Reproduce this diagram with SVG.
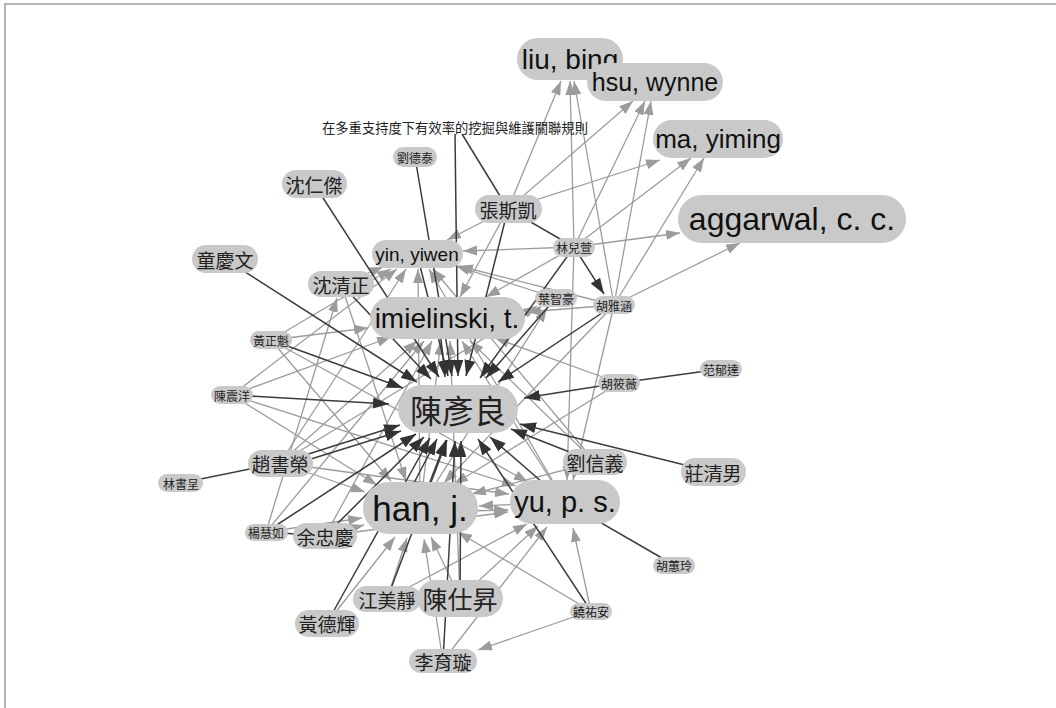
<svg xmlns="http://www.w3.org/2000/svg" width="1056" height="708" viewBox="0 0 1056 708">
<style>
.n{fill:#c9c9c9}
.t{font-family:"Liberation Sans",Arial,sans-serif;fill:#111;text-anchor:middle;dominant-baseline:central}
.c{font-family:"Noto Sans CJK TC","Noto Sans CJK SC",sans-serif;fill:#222;text-anchor:middle;dominant-baseline:central}
.g{stroke:#9c9c9c;stroke-width:1.3;fill:none;marker-end:url(#ag)}
.d{stroke:#3c3c3c;stroke-width:1.5;fill:none;marker-end:url(#ad)}
.dl{stroke:#3c3c3c;stroke-width:1.5;fill:none}
</style>
<defs>
<marker id="ag" markerUnits="userSpaceOnUse" markerWidth="14" markerHeight="10" viewBox="0 0 14 10" refX="14" refY="5" orient="auto"><path d="M0,0L14,5L0,10z" fill="#9c9c9c"/></marker>
<marker id="ad" markerUnits="userSpaceOnUse" markerWidth="16" markerHeight="11" viewBox="0 0 16 11" refX="16" refY="5.5" orient="auto"><path d="M0,0L16,5.5L0,11z" fill="#333"/></marker>
</defs>
<rect width="1056" height="708" fill="#fff"/>
<path d="M5,708V4H1056" stroke="#b4b4b4" stroke-width="2" fill="none"/>
<g id="connectors">
<line class="g" x1="508" y1="209" x2="561" y2="81"/>
<line class="g" x1="574" y1="247" x2="570" y2="81"/>
<line class="g" x1="614" y1="305" x2="574" y2="81"/>
<line class="g" x1="508" y1="209" x2="633" y2="101"/>
<line class="g" x1="574" y1="247" x2="645" y2="101"/>
<line class="g" x1="614" y1="305" x2="651" y2="101"/>
<line class="g" x1="508" y1="209" x2="660" y2="160"/>
<line class="g" x1="574" y1="247" x2="691" y2="158"/>
<line class="g" x1="614" y1="305" x2="704" y2="158"/>
<line class="g" x1="574" y1="247" x2="680" y2="233"/>
<line class="g" x1="614" y1="305" x2="740" y2="243"/>
<line class="g" x1="508" y1="209" x2="447" y2="240"/>
<line class="g" x1="574" y1="247" x2="463" y2="251"/>
<line class="g" x1="556" y1="298" x2="456" y2="266"/>
<line class="g" x1="614" y1="305" x2="459" y2="266"/>
<line class="g" x1="341" y1="284" x2="383" y2="267"/>
<line class="g" x1="271" y1="340" x2="391" y2="269"/>
<line class="g" x1="232" y1="395" x2="397" y2="269"/>
<line class="g" x1="280" y1="463" x2="406" y2="269"/>
<line class="g" x1="420" y1="508" x2="418" y2="269"/>
<line class="g" x1="565" y1="502" x2="429" y2="269"/>
<line class="g" x1="595" y1="462" x2="433" y2="269"/>
<line class="g" x1="271" y1="340" x2="368" y2="328"/>
<line class="g" x1="232" y1="395" x2="391" y2="337"/>
<line class="g" x1="280" y1="463" x2="417" y2="341"/>
<line class="g" x1="266" y1="532" x2="424" y2="341"/>
<line class="g" x1="420" y1="508" x2="441" y2="341"/>
<line class="g" x1="565" y1="502" x2="462" y2="341"/>
<line class="g" x1="595" y1="462" x2="470" y2="341"/>
<line class="g" x1="460" y1="598" x2="450" y2="341"/>
<line class="g" x1="325" y1="536" x2="432" y2="341"/>
<line class="g" x1="574" y1="247" x2="486" y2="297"/>
<line class="g" x1="614" y1="305" x2="527" y2="312"/>
<line class="g" x1="508" y1="209" x2="460" y2="297"/>
<line class="g" x1="619" y1="383" x2="495" y2="338"/>
<line class="g" x1="280" y1="463" x2="365" y2="492"/>
<line class="g" x1="232" y1="395" x2="377" y2="485"/>
<line class="g" x1="271" y1="340" x2="391" y2="481"/>
<line class="g" x1="341" y1="284" x2="406" y2="481"/>
<line class="g" x1="325" y1="536" x2="364" y2="525"/>
<line class="g" x1="266" y1="532" x2="362" y2="518"/>
<line class="g" x1="387" y1="599" x2="407" y2="538"/>
<line class="g" x1="460" y1="598" x2="431" y2="537"/>
<line class="g" x1="443" y1="661" x2="424" y2="539"/>
<line class="g" x1="327" y1="623" x2="395" y2="537"/>
<line class="g" x1="591" y1="611" x2="458" y2="532"/>
<line class="g" x1="565" y1="502" x2="479" y2="506"/>
<line class="g" x1="595" y1="462" x2="472" y2="494"/>
<line class="g" x1="619" y1="383" x2="454" y2="484"/>
<line class="g" x1="614" y1="305" x2="444" y2="483"/>
<line class="g" x1="420" y1="512" x2="508" y2="510"/>
<line class="g" x1="387" y1="599" x2="527" y2="524"/>
<line class="g" x1="460" y1="598" x2="538" y2="526"/>
<line class="g" x1="443" y1="661" x2="547" y2="527"/>
<line class="g" x1="591" y1="611" x2="573" y2="528"/>
<line class="g" x1="325" y1="536" x2="508" y2="512"/>
<line class="g" x1="280" y1="463" x2="509" y2="494"/>
<line class="g" x1="271" y1="340" x2="528" y2="482"/>
<line class="g" x1="232" y1="395" x2="516" y2="486"/>
<line class="g" x1="614" y1="305" x2="573" y2="480"/>
<line class="g" x1="574" y1="247" x2="567" y2="480"/>
<line class="g" x1="591" y1="611" x2="478" y2="650"/>
<line class="g" x1="266" y1="532" x2="337" y2="298"/>
<line class="g" x1="420" y1="508" x2="547" y2="308"/>
<line class="g" x1="280" y1="463" x2="537" y2="306"/>
<line class="dl" x1="181" y1="483" x2="280" y2="463"/>
<line class="dl" x1="721" y1="369" x2="619" y2="383"/>
<line class="dl" x1="674" y1="565" x2="565" y2="502"/>
<line class="dl" x1="462" y1="134" x2="508" y2="209"/>
<line class="dl" x1="508" y1="209" x2="574" y2="247"/>
<line class="dl" x1="266" y1="532" x2="325" y2="536"/>
<line class="d" x1="574" y1="247" x2="604" y2="294"/>
<line class="d" x1="225" y1="259" x2="417" y2="382"/>
<line class="d" x1="314" y1="184" x2="439" y2="377"/>
<line class="d" x1="415" y1="157" x2="452" y2="376"/>
<line class="d" x1="455" y1="134" x2="458" y2="376"/>
<line class="d" x1="508" y1="209" x2="466" y2="376"/>
<line class="d" x1="574" y1="247" x2="480" y2="378"/>
<line class="d" x1="556" y1="298" x2="486" y2="378"/>
<line class="d" x1="614" y1="305" x2="498" y2="382"/>
<line class="d" x1="619" y1="383" x2="524" y2="398"/>
<line class="d" x1="713" y1="472" x2="520" y2="424"/>
<line class="d" x1="595" y1="462" x2="511" y2="429"/>
<line class="d" x1="565" y1="502" x2="490" y2="437"/>
<line class="d" x1="591" y1="611" x2="478" y2="439"/>
<line class="d" x1="443" y1="661" x2="455" y2="441"/>
<line class="d" x1="460" y1="598" x2="461" y2="441"/>
<line class="d" x1="420" y1="508" x2="446" y2="440"/>
<line class="d" x1="405" y1="500" x2="437" y2="439"/>
<line class="d" x1="327" y1="623" x2="430" y2="438"/>
<line class="d" x1="387" y1="599" x2="447" y2="440"/>
<line class="d" x1="266" y1="532" x2="416" y2="434"/>
<line class="d" x1="325" y1="536" x2="424" y2="437"/>
<line class="d" x1="280" y1="463" x2="400" y2="425"/>
<line class="d" x1="282" y1="468" x2="401" y2="431"/>
<line class="d" x1="232" y1="395" x2="389" y2="404"/>
<line class="d" x1="271" y1="340" x2="403" y2="388"/>
<line class="d" x1="341" y1="284" x2="431" y2="379"/>
<line class="d" x1="440" y1="330" x2="445" y2="377"/>
<line class="d" x1="417" y1="254" x2="448" y2="376"/>
</g>
<g id="n-title"><text class="c" x="455" y="127" font-size="13.3">在多重支持度下有效率的挖掘與維護關聯規則</text></g>
<g id="n-liu"><rect class="n" x="517" y="38" width="106" height="42" rx="21"/><text class="t" x="570" y="59" font-size="28">liu, bing</text></g>
<g id="n-hsu"><rect class="n" x="587" y="63" width="136" height="38" rx="19"/><text class="t" x="655" y="82" font-size="25">hsu, wynne</text></g>
<g id="n-ma"><rect class="n" x="653" y="120" width="130" height="38" rx="19"/><text class="t" x="718" y="139" font-size="26">ma, yiming</text></g>
<g id="n-aggarwal"><rect class="n" x="678" y="195" width="228" height="48" rx="24"/><text class="t" x="792" y="219" font-size="32">aggarwal, c. c.</text></g>
<g id="n-liudetai"><rect class="n" x="393" y="147" width="44" height="20" rx="10"/><text class="c" x="415" y="157" font-size="12">劉德泰</text></g>
<g id="n-shenrenjie"><rect class="n" x="282" y="170" width="65" height="28" rx="14"/><text class="c" x="314" y="184" font-size="19">沈仁傑</text></g>
<g id="n-zhangsikai"><rect class="n" x="475" y="195" width="67" height="28" rx="14"/><text class="c" x="508" y="209" font-size="19">張斯凱</text></g>
<g id="n-yin"><rect class="n" x="372" y="240" width="91" height="28" rx="14"/><text class="t" x="417" y="254" font-size="19">yin, yiwen</text></g>
<g id="n-linerxuan"><rect class="n" x="553" y="238" width="42" height="19" rx="9.5"/><text class="c" x="574" y="247" font-size="12">林兒萱</text></g>
<g id="n-tongqingwen"><rect class="n" x="192" y="245" width="66" height="28" rx="14"/><text class="c" x="225" y="259" font-size="19">童慶文</text></g>
<g id="n-shenqingzheng"><rect class="n" x="308" y="271" width="66" height="26" rx="13"/><text class="c" x="341" y="284" font-size="19">沈清正</text></g>
<g id="n-yezhihao"><rect class="n" x="535" y="289" width="42" height="18" rx="9"/><text class="c" x="556" y="298" font-size="12">葉智豪</text></g>
<g id="n-huyahan"><rect class="n" x="593" y="296" width="42" height="18" rx="9"/><text class="c" x="614" y="305" font-size="12">胡雅涵</text></g>
<g id="n-imielinski"><rect class="n" x="370" y="297" width="155" height="42" rx="21"/><text class="t" x="447" y="318" font-size="28">imielinski, t.</text></g>
<g id="n-huangzhengkui"><rect class="n" x="250" y="331" width="42" height="18" rx="9"/><text class="c" x="271" y="340" font-size="12">黃正魁</text></g>
<g id="n-fanyuda"><rect class="n" x="700" y="360" width="42" height="18" rx="9"/><text class="c" x="721" y="369" font-size="12">范郁達</text></g>
<g id="n-huxiaowei"><rect class="n" x="598" y="374" width="42" height="18" rx="9"/><text class="c" x="619" y="383" font-size="12">胡筱薇</text></g>
<g id="n-chenzhenyang"><rect class="n" x="211" y="386" width="42" height="18" rx="9"/><text class="c" x="232" y="395" font-size="12">陳震洋</text></g>
<g id="n-chenyanliang"><rect class="n" x="398" y="385" width="120" height="48" rx="24"/><text class="c" x="458" y="409" font-size="32">陳彥良</text></g>
<g id="n-liuxinyi"><rect class="n" x="563" y="449" width="64" height="26" rx="13"/><text class="c" x="595" y="462" font-size="19">劉信義</text></g>
<g id="n-zhuangqingnan"><rect class="n" x="681" y="458" width="65" height="28" rx="14"/><text class="c" x="713" y="472" font-size="19">莊清男</text></g>
<g id="n-zhaoshurong"><rect class="n" x="248" y="450" width="65" height="27" rx="13.5"/><text class="c" x="280" y="463" font-size="19">趙書榮</text></g>
<g id="n-linshucheng"><rect class="n" x="158" y="474" width="45" height="18" rx="9"/><text class="c" x="181" y="483" font-size="12">林書呈</text></g>
<g id="n-han"><rect class="n" x="363" y="482" width="115" height="52" rx="26"/><text class="t" x="420" y="508" font-size="35">han, j.</text></g>
<g id="n-yu"><rect class="n" x="510" y="480" width="110" height="44" rx="22"/><text class="t" x="565" y="502" font-size="29">yu, p. s.</text></g>
<g id="n-yanghuiru"><rect class="n" x="245" y="524" width="43" height="17" rx="8.5"/><text class="c" x="266" y="532" font-size="12">楊慧如</text></g>
<g id="n-yuzhongqing"><rect class="n" x="293" y="523" width="64" height="26" rx="13"/><text class="c" x="325" y="536" font-size="19">余忠慶</text></g>
<g id="n-huhuiling"><rect class="n" x="653" y="557" width="42" height="17" rx="8.5"/><text class="c" x="674" y="565" font-size="12">胡蕙玲</text></g>
<g id="n-jiangmeijing"><rect class="n" x="353" y="586" width="68" height="26" rx="13"/><text class="c" x="387" y="599" font-size="19">江美靜</text></g>
<g id="n-chenshisheng"><rect class="n" x="417" y="580" width="86" height="37" rx="18.5"/><text class="c" x="460" y="598" font-size="25">陳仕昇</text></g>
<g id="n-raoyouan"><rect class="n" x="570" y="603" width="42" height="17" rx="8.5"/><text class="c" x="591" y="611" font-size="12">饒祐安</text></g>
<g id="n-huangdehui"><rect class="n" x="295" y="610" width="64" height="27" rx="13.5"/><text class="c" x="327" y="623" font-size="19">黃德輝</text></g>
<g id="n-liyuxuan"><rect class="n" x="409" y="649" width="68" height="24" rx="12"/><text class="c" x="443" y="661" font-size="19">李育璇</text></g>
</svg>
